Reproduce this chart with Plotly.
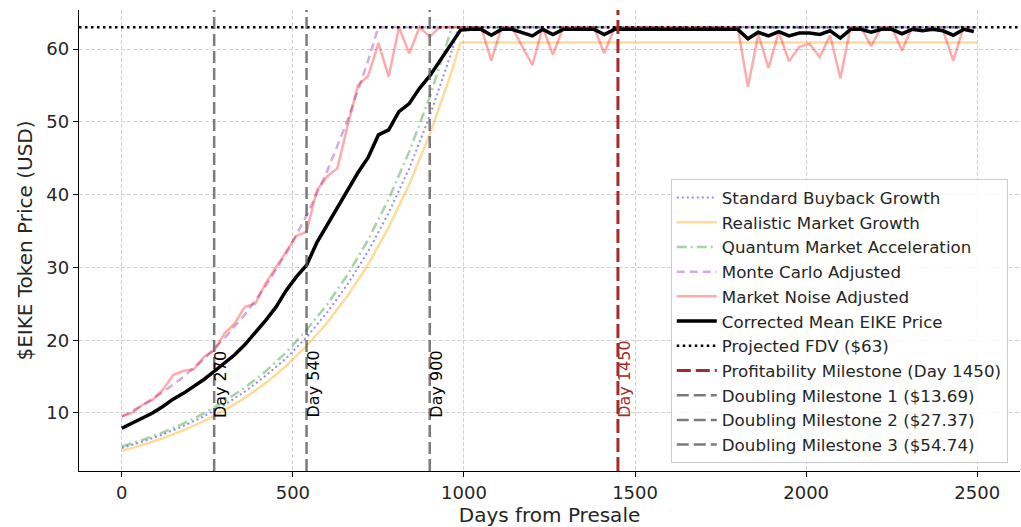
import plotly.graph_objects as go

# ---------------- data ----------------
# smooth model curves, sampled every 60 days until they hit their cap
days_std = [0, 60, 120, 180, 240, 300, 360, 420, 480, 540, 600, 660, 720, 780, 840, 900, 960, 985, 2500]
standard = [5.2, 6.05, 7.05, 8.2, 9.55, 11.1, 12.95, 15.1, 17.5, 20.4, 23.8, 27.7, 32.2, 37.5, 43.6, 50.8, 59.1, 63.0, 63.0]

days_real = [0, 60, 120, 180, 240, 300, 360, 420, 480, 540, 600, 660, 720, 780, 840, 900, 960, 990, 2500]
realistic = [4.8, 5.6, 6.53, 7.62, 8.89, 10.37, 12.1, 14.1, 16.45, 19.2, 22.4, 26.1, 30.4, 35.5, 41.4, 48.3, 56.3, 60.9, 60.9]

days_quant = [0, 60, 120, 180, 240, 300, 360, 420, 480, 540, 600, 660, 720, 780, 840, 900, 960, 967, 2500]
quantum = [5.4, 6.29, 7.33, 8.54, 9.95, 11.6, 13.5, 15.7, 18.3, 21.4, 24.9, 29.0, 33.8, 39.4, 45.9, 53.4, 62.3, 63.0, 63.0]

days_mc = [0, 60, 120, 180, 240, 300, 360, 420, 480, 540, 600, 660, 720, 750, 2500]
monte_carlo = [9.5, 11.05, 12.86, 14.96, 17.4, 20.25, 23.55, 27.4, 31.9, 37.1, 43.2, 50.2, 58.4, 63.0, 63.0]

# monthly (30-day) series
days_monthly = list(range(0, 2500, 30))
noise = [
    9.5, 10.0, 11.1, 11.8, 13.2, 15.2, 15.8, 16.0, 17.7, 18.6,      # 0-270
    20.9, 22.3, 24.6, 25.0, 27.8, 30.0, 32.2, 34.3, 34.9, 40.6,     # 300-570
    42.5, 43.6, 49.5, 55.0, 56.3, 60.8, 56.2, 63.0, 59.4, 63.0,     # 600-870
    61.7, 63.0, 63.0, 63.0, 63.0, 63.0, 58.4, 63.0, 63.0, 60.5,     # 900-1170
    57.8, 63.0, 59.2, 63.0, 63.0, 63.0, 63.0, 59.4, 63.0, 63.0,     # 1200-1470
    63.0, 63.0, 63.0, 63.0, 63.0, 63.0, 63.0, 63.0, 63.0, 63.0,     # 1500-1770
    63.0, 54.8, 62.0, 57.4, 62.3, 58.3, 60.3, 60.7, 58.9, 61.9,     # 1800-2070
    56.0, 63.0, 63.0, 60.4, 63.0, 63.0, 59.8, 63.0, 62.5, 63.0,     # 2100-2370
    62.5, 58.4, 63.0, 62.5,                                         # 2400-2490
]
corrected_mean = [
    7.9, 8.6, 9.3, 10.0, 10.9, 11.9, 12.7, 13.6, 14.6, 15.7,
    16.8, 18.0, 19.4, 21.0, 22.7, 24.5, 26.8, 28.7, 30.3, 33.4,
    35.8, 38.2, 40.4, 43.0, 45.1, 48.2, 48.9, 51.4, 52.5, 54.6,
    56.3, 58.4, 60.6, 62.6, 62.7, 62.7, 61.9, 62.7, 62.7, 62.3,
    61.8, 62.7, 62.0, 62.7, 62.7, 62.7, 62.7, 62.0, 62.7, 62.7,
    62.7, 62.7, 62.7, 62.7, 62.7, 62.7, 62.7, 62.7, 62.7, 62.7,
    62.7, 61.4, 62.3, 61.8, 62.4, 61.8, 62.2, 62.2, 62.0, 62.5,
    61.5, 62.7, 62.7, 62.3, 62.7, 62.7, 62.1, 62.7, 62.5, 62.7,
    62.5, 61.9, 62.7, 62.4,
]

fdv_price = 63
profit_day = 1450
milestone_days = [270, 540, 900]
milestone_prices = [13.69, 27.37, 54.74]

x_ticks = [0, 500, 1000, 1500, 2000, 2500]
y_ticks = [10, 20, 30, 40, 50, 60]
X_RANGE = [-125, 2625]
Y_RANGE = [2.03, 65.36]

FONT = "DejaVu Sans"
TXT = "#262626"

fig = go.Figure()

def add_line(x, y, name, color, width, dash):
    fig.add_trace(go.Scatter(
        x=x, y=y, mode="lines", name=name, legendgroup=name,
        line=dict(color=color, width=width, dash=dash),
    ))

add_line(days_std, standard, "Standard Buyback Growth", "rgba(0,0,255,0.45)", 2, "2px,3px")
add_line(days_real, realistic, "Realistic Market Growth", "rgba(255,165,0,0.4)", 2.5, "solid")
add_line(days_quant, quantum, "Quantum Market Acceleration", "rgba(0,128,0,0.35)", 2.5, "10px,4px,2px,4px")
add_line(days_mc, monte_carlo, "Monte Carlo Adjusted", "rgba(128,0,160,0.33)", 2.5, "8px,5px")
add_line(days_monthly, noise, "Market Noise Adjusted", "rgba(255,0,0,0.33)", 2.5, "solid")
add_line(days_monthly, corrected_mean, "Corrected Mean EIKE Price", "black", 3.5, "solid")
add_line(X_RANGE, [fdv_price, fdv_price], f"Projected FDV (${fdv_price})", "black", 2.5, "2.5px,3.5px")
add_line([profit_day, profit_day], Y_RANGE, f"Profitability Milestone (Day {profit_day})", "#a52a2a", 3, "14px,5px")
for i, (d, p) in enumerate(zip(milestone_days, milestone_prices)):
    add_line([d, d], Y_RANGE, f"Doubling Milestone {i+1} (${p:.2f})", "rgba(90,90,90,0.8)", 2.5, "12px,5px")

# rotated day labels
for d in milestone_days:
    fig.add_annotation(x=d, y=9.6, text=f"Day {d}", textangle=-90, showarrow=False,
                       xanchor="left", yanchor="bottom", xshift=-5, yshift=-4,
                       font=dict(family=FONT, size=16, color="black"))
fig.add_annotation(x=profit_day, y=9.6, text=f"Day {profit_day}", textangle=-90, showarrow=False,
                   xanchor="left", yanchor="bottom", xshift=-5, yshift=-4,
                   font=dict(family=FONT, size=16, color="#a52a2a"))

axis_common = dict(
    showgrid=True, gridcolor="#d2d2d2", griddash="4px,2px", gridwidth=1,
    showline=True, linecolor="black", linewidth=1.3,
    ticks="outside", ticklen=5, tickwidth=1.2, tickcolor="black",
    tickfont=dict(family=FONT, size=18, color=TXT),
    zeroline=False, automargin=False,
)

fig.update_layout(
    width=1021, height=527,
    margin=dict(l=79, r=1, t=10, b=56),
    paper_bgcolor="white", plot_bgcolor="white",
    font=dict(family=FONT, color=TXT),
    xaxis=dict(range=X_RANGE, tickvals=x_ticks,
               title=dict(text="Days from Presale", font=dict(family=FONT, size=20, color=TXT), standoff=8),
               **axis_common),
    yaxis=dict(range=Y_RANGE, tickvals=y_ticks,
               title=dict(text="$EIKE Token Price (USD)", font=dict(family=FONT, size=20, color=TXT), standoff=8),
               **axis_common),
    legend=dict(x=0.987, y=0.017, xanchor="right", yanchor="bottom",
                bgcolor="rgba(255,255,255,0.85)", bordercolor="#cccccc", borderwidth=1,
                font=dict(family=FONT, size=16.7, color=TXT), tracegroupgap=5,
                itemwidth=40, traceorder="normal"),
    showlegend=True,
)

fig.write_html("out.html", config={"displayModeBar": False},
               post_script="document.body.style.margin='0';document.body.style.padding='0';")
